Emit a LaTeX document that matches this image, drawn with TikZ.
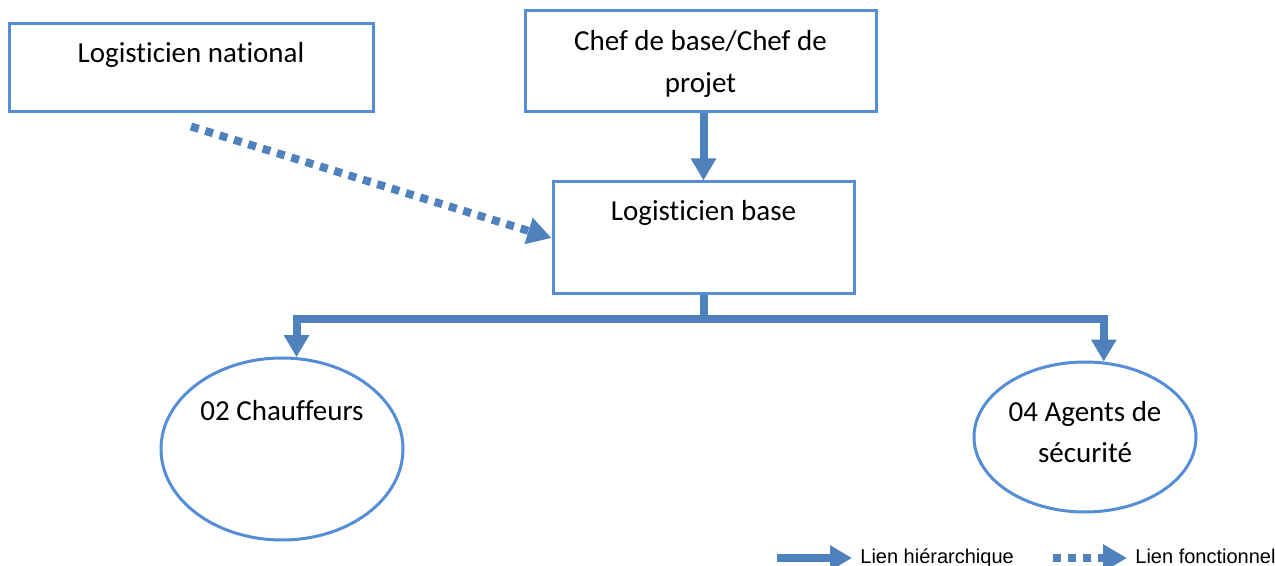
\documentclass[tikz,border=0pt]{standalone}
\usepackage{fontspec}
\setmainfont{Carlito}[Ligatures={NoCommon,NoContextual}]
\newfontfamily\legfont{Liberation Sans}
\usetikzlibrary{arrows.meta,shapes.geometric}
\definecolor{cadre}{HTML}{558ED5}
\definecolor{fleche}{HTML}{4F81BD}
\tikzset{
  boite/.style={draw=cadre, line width=1.5pt, rectangle, inner sep=0pt, align=center,
    font=\fontsize{14.5}{21}\selectfont},
  bulle/.style={draw=cadre, line width=1.5pt, ellipse, inner xsep=-15pt, inner ysep=0pt,
    align=center, font=\fontsize{14.5}{20.5}\selectfont},
  hier/.style={draw=fleche, line width=4pt, -{Triangle[length=11pt,width=12pt]}},
  fonct/.style={draw=fleche, line width=4pt, dash pattern=on 4pt off 3.5pt,
    -{Triangle[length=12pt,width=13pt]}},
  legende/.style={font=\legfont\fontsize{10}{12}\selectfont, inner sep=0pt}
}
\begin{document}
\begin{tikzpicture}[x=0.5pt,y=-0.5pt]
  \useasboundingbox (0,0) rectangle (1275,566);
  % boites
  \node[boite, minimum width=182pt, text height=19.5pt, text depth=24.5pt] (national) at (191,68) {Logisticien national};
  \node[boite, minimum width=175.5pt, minimum height=50.5pt, text depth=0pt] (chef) at (700.5,61.5) {Chef de base/Chef de\\projet};
  \node[boite, minimum width=150.5pt, text height=19.5pt, text depth=36.5pt] (base) at (703.5,238) {Logisticien base};
  % bulles
  \node[bulle, minimum width=121pt, minimum height=91pt, text height=10pt, text depth=38pt] (chauffeurs) at (282,449) {02 Chauffeurs};
  \node[bulle, minimum width=111pt, minimum height=75pt, text depth=5pt] (agents) at (1085,437) {04 Agents de\\sécurité};
  % liens
  \draw[hier] (base.north |- chef.south) -- (base.north);
  \draw[hier] (base.south) -- ++(0,24) -| (chauffeurs.81);
  \draw[hier] (base.south) -- ++(0,24) -| (agents.76.5);
  \draw[fonct] ([yshift=-6.5pt]national.south) -- (base.west);
  % legende
  \node[legende, anchor=base west] (lhier) at (860,564) {Lien hiérarchique};
  \node[legende, anchor=base west] (lfonct) at (1135,564) {Lien fonctionnel};
  \coordinate (dhier) at (777,558);
  \coordinate (dfonct) at (1053,558);
  \draw[hier, shorten >=4pt] (dhier) -- (dhier -| lhier.west);
  \draw[fonct, shorten >=4pt] (dfonct) -- (dfonct -| lfonct.west);
\end{tikzpicture}
\end{document}
